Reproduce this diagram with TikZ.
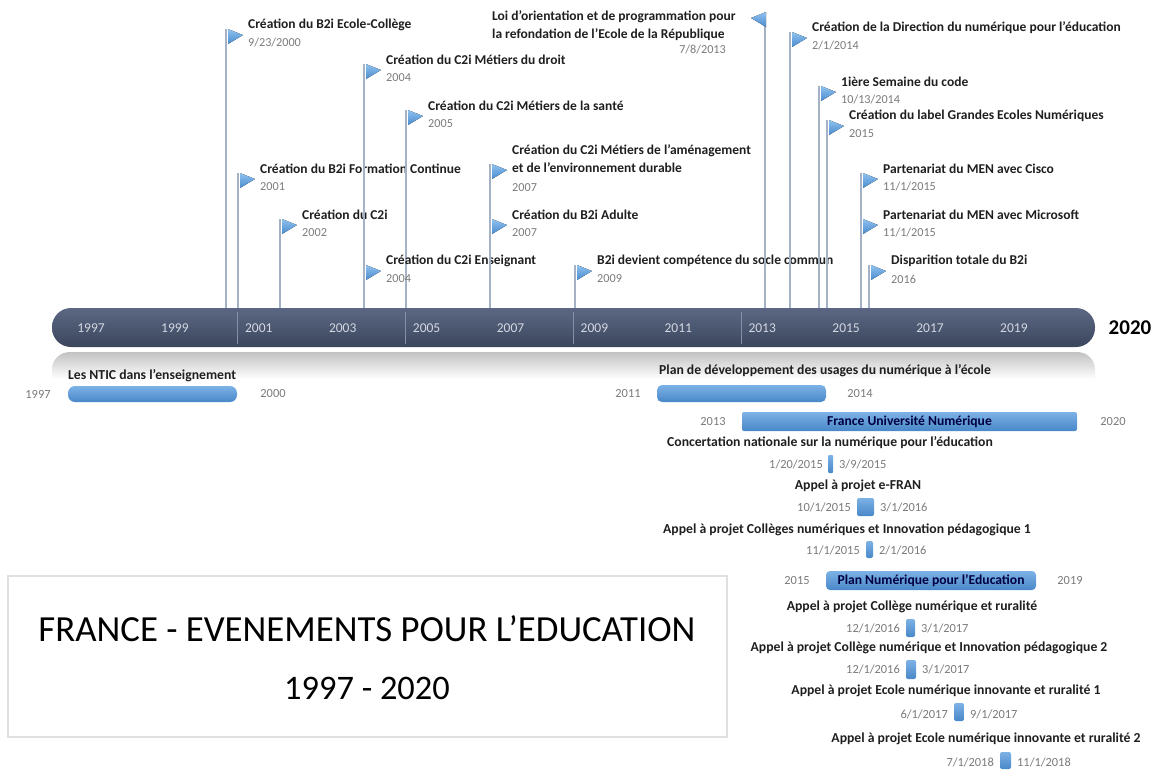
\documentclass[tikz,border=0pt]{standalone}
\usepackage{fontspec}
\setmainfont{Carlito}
\usetikzlibrary{calc}
\definecolor{axisTop}{HTML}{5C6883}
\definecolor{axisBot}{HTML}{3B465D}
\definecolor{flagblue}{HTML}{4A8BCF}
\definecolor{flaglight}{HTML}{8FC2EE}
\definecolor{barTop}{HTML}{7DB2E6}
\definecolor{barBot}{HTML}{4887C8}
\definecolor{polecol}{HTML}{A5B1C4}
\definecolor{datecol}{HTML}{7A7A7A}
\definecolor{yearcol}{HTML}{D3D8E2}
\definecolor{sepcol}{HTML}{8390A8}
\tikzset{
  x=1pt, y=1pt,
  evt/.style={anchor=west, inner sep=0pt, font=\fontsize{13.5}{18}\selectfont\bfseries, text=black!88},
  evdate/.style={anchor=west, inner sep=0pt, font=\fontsize{12.2}{14}\selectfont, text=datecol},
  pole/.style={draw=polecol, line width=1.2pt},
  flagfill/.style={top color=flaglight, bottom color=flagblue},
  yearlab/.style={font=\fontsize{13.5}{15}\selectfont, text=yearcol, inner sep=0pt},
  sep/.style={draw=sepcol, line width=0.8pt},
  gbar/.style={draw=none, top color=barTop, bottom color=barBot, rounded corners=3pt},
  glabel/.style={font=\fontsize{13.7}{15}\selectfont\bfseries, inner sep=0pt, text=black!88},
  ginner/.style={font=\fontsize{13.6}{15}\selectfont\bfseries, inner sep=0pt, text=black!75!blue},
  gdate/.style={font=\fontsize{12.4}{14}\selectfont, inner sep=0pt, text=datecol},
  flagR/.pic={\fill[flagfill] (2,0) -- (17,-6) -- (2,-15) -- cycle;},
  flagL/.pic={\fill[flagfill] (1,0) -- (-14,-6) -- (1,-15) -- cycle;},
}
\begin{document}
\begin{tikzpicture}
\useasboundingbox (0,0) rectangle (1157,-769);

% reflection under axis (strips fading to white)
\begin{scope}
  \clip[rounded corners=18pt] (52,-420) -- (52,-352) -- (1095,-352) -- (1095,-420) -- cycle;
  \foreach \i in {0,...,27}{
    \pgfmathsetmacro\shadeamt{24*(1-\i/27)}
    \fill[black!\shadeamt] (45,-352-\i) rectangle (1100,-353.6-\i);
  }
\end{scope}

% axis
\node[draw=none, top color=axisTop, bottom color=axisBot, rounded corners=19pt,
      minimum width=1043pt, minimum height=39pt, inner sep=0pt] (axis) at (573.5,-327.5) {};
\foreach \sx in {237,405,573,741} \draw[sep] (\sx,-312) -- (\sx,-344);
\foreach \yr [count=\i from 0] in {1997,1999,2001,2003,2005,2007,2009,2011,2013,2015,2017,2019}
  \node[yearlab] (yr\yr) at ({91+83.9*\i},-328) {\yr};
\node[font=\fontsize{21}{24}\selectfont\bfseries, inner sep=0pt] (y2020) at (1130,-328) {2020};

% events
\newcommand\evR[5]{% name, pole x, flag top y, title, date
  \coordinate (#1) at (#2,#3);
  \draw[pole] (#1) -- (#1 |- axis.north);
  \pic at (#1) {flagR};
  \node[evt] (#1t) at ($(#1)+(22,4)$) {#4};
  \node[evdate] (#1d) at ($(#1)+(22,-14)$) {#5};
}
\evR{e1}{226}{-29}{Création du B2i Ecole-Collège}{9/23/2000}
\evR{e2}{238}{-173}{Création du B2i Formation Continue}{2001}
\evR{e3}{280}{-219}{Création du C2i}{2002}
\evR{e4}{364}{-64}{Création du C2i Métiers du droit}{2004}
\evR{e5}{406}{-110}{Création du C2i Métiers de la santé}{2005}
\evR{e6}{364}{-265}{Création du C2i Enseignant}{2004}
\evR{e8}{490}{-219}{Création du B2i Adulte}{2007}
\evR{e9}{575}{-265}{B2i devient compétence du socle commun}{2009}
\evR{e11}{790}{-32}{Création de la Direction du numérique pour l'éducation}{2/1/2014}
\evR{e12}{819}{-86}{1ière Semaine du code}{10/13/2014}
\evR{e13}{827}{-120}{Création du label Grandes Ecoles Numériques}{2015}
\evR{e14}{861}{-173}{Partenariat du MEN avec Cisco}{11/1/2015}
\evR{e15}{861}{-219}{Partenariat du MEN avec Microsoft}{11/1/2015}
\evR{e16}{869}{-265}{Disparition totale du B2i}{2016}

% event with two-line title (2007)
\coordinate (e7) at (490,-164);
\draw[pole] (e7) -- (e7 |- axis.north);
\pic at (e7) {flagR};
\node[evt, anchor=north west, align=left] (e7t) at (512,-144) {Création du C2i Métiers de l'aménagement\\et de l'environnement durable};
\node[evdate] (e7d) at (512,-188) {2007};

% left-pointing flag (7/8/2013)
\coordinate (e10) at (765,-12);
\draw[pole] (e10) -- (e10 |- axis.north);
\pic at (e10) {flagL};
\node[evt, anchor=north west, align=left] (e10t) at (492,-10) {Loi d'orientation et de programmation pour\\la refondation de l'Ecole de la République};
\node[evdate, anchor=east] (e10d) at (726,-50) {7/8/2013};

% Gantt bars
\node[glabel, anchor=west] (g1t) at (68,-376) {Les NTIC dans l'enseignement};
\path[gbar, rounded corners=7pt] (68,-386) rectangle (237,-402);
\node[gdate] (g1s) at (38,-394) {1997};
\node[gdate] (g1e) at (273,-394) {2000};

\node[glabel] (g2t) at (825,-371) {Plan de développement des usages du numérique à l'école};
\path[gbar, rounded corners=5pt] (657,-385) rectangle (826,-402);
\node[gdate] (g2s) at (628,-394) {2011};
\node[gdate] (g2e) at (860,-394) {2014};

\path[gbar, rounded corners=2pt] (742,-412) rectangle (1077,-431);
\node[ginner] (g3t) at (909.5,-421.5) {France Université Numérique};
\node[gdate] (g3s) at (713,-422) {2013};
\node[gdate] (g3e) at (1113,-422) {2020};

\node[glabel] (g4t) at (830,-443) {Concertation nationale sur la numérique pour l'éducation};
\path[gbar, rounded corners=1pt] (828,-455) rectangle (833,-473);
\node[gdate, anchor=east] (g4s) at (823,-464) {1/20/2015};
\node[gdate, anchor=west] (g4e) at (839,-464) {3/9/2015};

\node[glabel] (g5t) at (858,-486) {Appel à projet e-FRAN};
\path[gbar, rounded corners=2pt] (857,-498) rectangle (874,-516);
\node[gdate, anchor=east] (g5s) at (851,-507) {10/1/2015};
\node[gdate, anchor=west] (g5e) at (880,-507) {3/1/2016};

\node[glabel] (g6t) at (847,-530) {Appel à projet Collèges numériques et Innovation pédagogique 1};
\path[gbar, rounded corners=2pt] (866,-541) rectangle (873,-558);
\node[gdate, anchor=east] (g6s) at (860,-550) {11/1/2015};
\node[gdate, anchor=west] (g6e) at (879,-550) {2/1/2016};

\path[gbar, rounded corners=4pt] (826,-571) rectangle (1036,-590);
\node[ginner] (g7t) at (931,-580.5) {Plan Numérique pour l'Education};
\node[gdate] (g7s) at (797,-581) {2015};
\node[gdate] (g7e) at (1070,-581) {2019};

\node[glabel] (g8t) at (912,-607) {Appel à projet Collège numérique et ruralité};
\path[gbar, rounded corners=2pt] (906,-619) rectangle (915,-637);
\node[gdate, anchor=east] (g8s) at (900,-628) {12/1/2016};
\node[gdate, anchor=west] (g8e) at (921,-628) {3/1/2017};

\node[glabel] (g9t) at (929,-648) {Appel à projet Collège numérique et Innovation pédagogique 2};
\path[gbar, rounded corners=2pt] (906,-660) rectangle (916,-679);
\node[gdate, anchor=east] (g9s) at (900,-669) {12/1/2016};
\node[gdate, anchor=west] (g9e) at (922,-669) {3/1/2017};

\node[glabel] (g10t) at (946,-691) {Appel à projet Ecole numérique innovante et ruralité 1};
\path[gbar, rounded corners=2pt] (954,-703) rectangle (964,-721);
\node[gdate, anchor=east] (g10s) at (948,-714) {6/1/2017};
\node[gdate, anchor=west] (g10e) at (970,-714) {9/1/2017};

\node[glabel] (g11t) at (986,-739) {Appel à projet Ecole numérique innovante et ruralité 2};
\path[gbar, rounded corners=2pt] (1000,-752) rectangle (1011,-769);
\node[gdate, anchor=east] (g11s) at (994,-762) {7/1/2018};
\node[gdate, anchor=west] (g11e) at (1017,-762) {11/1/2018};

% title box
\node[draw=black!12, line width=1.2pt, minimum width=719pt, minimum height=161pt, inner sep=0pt] (box) at (367.5,-656.5) {};
\node[font=\fontsize{36.8}{40}\selectfont, inner sep=0pt] (title) at (367,-629) {FRANCE - EVENEMENTS POUR L’EDUCATION};
\node[font=\fontsize{34.4}{38}\selectfont, inner sep=0pt] (years) at (367,-688) {1997 - 2020};
\end{tikzpicture}
\end{document}
